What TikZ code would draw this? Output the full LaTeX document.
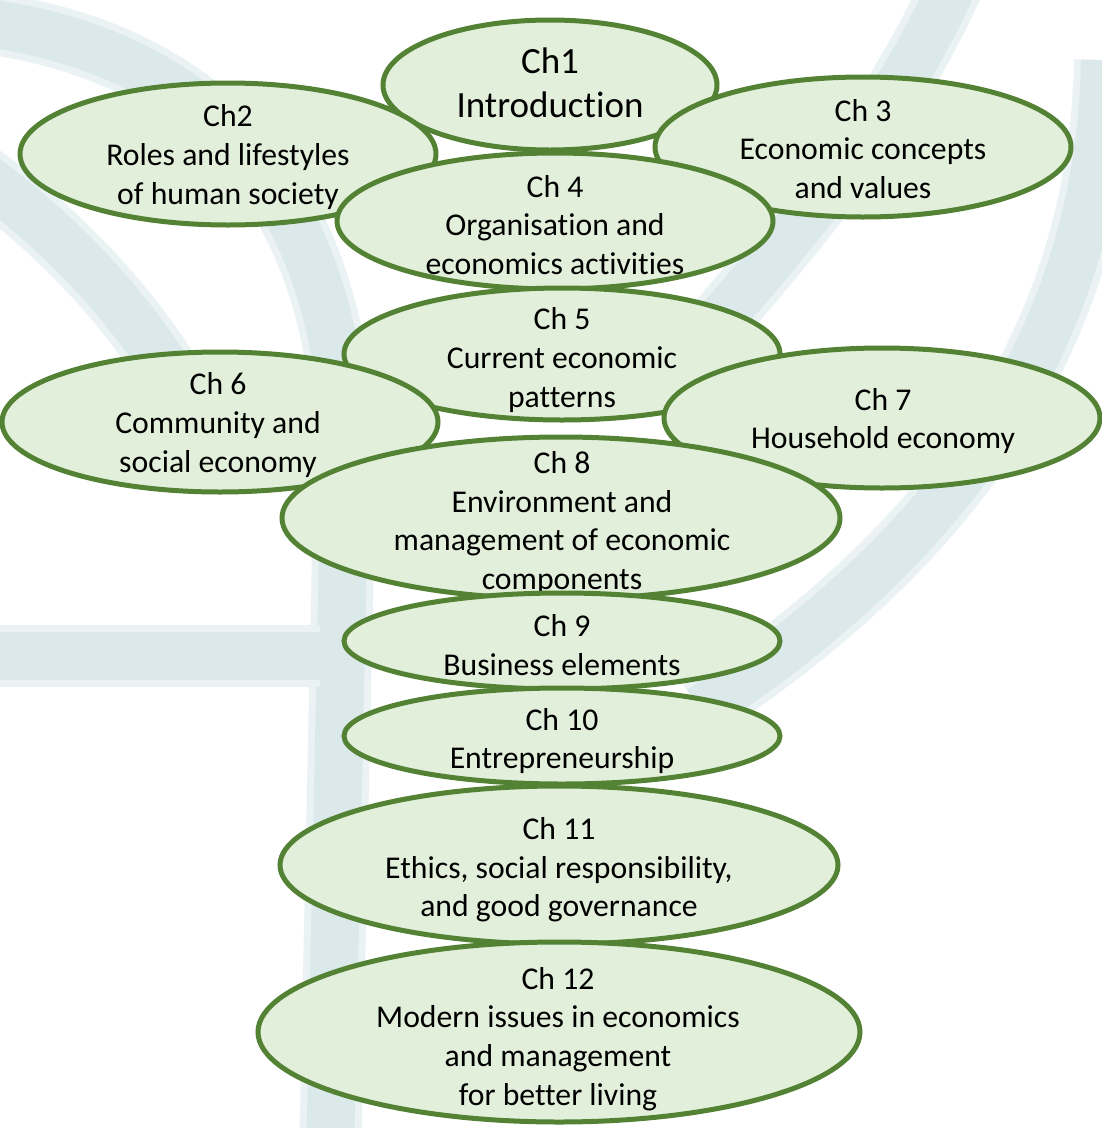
\documentclass[tikz,border=0pt]{standalone}
\usepackage{fontspec}
\setmainfont{Carlito}[Ligatures=CommonOff]
\definecolor{leafbg}{RGB}{220,233,235}
\definecolor{leaflight}{RGB}{234,242,243}
\definecolor{chapfill}{RGB}{226,239,218}
\definecolor{chapline}{RGB}{84,130,53}
\newcommand{\chtext}{\fontsize{31.7}{38.6}\selectfont}
\newcommand{\chbig}{\fontsize{37}{44}\selectfont}

\begin{document}
\begin{tikzpicture}[x=1pt,y=-1pt,
   leaf/.style={draw=leafbg,line width=48,line cap=butt,
      preaction={draw=leaflight,line width=62}},
   chap/.style={fill=chapfill,draw=chapline,line width=5},
   chaptext/.style={align=center,inner sep=0,font=\chtext}]
   \useasboundingbox (0,0) rectangle (1102,1128);
   % watermark in the back
   \draw[leaf] (-40,20) .. controls (180,40) and (340,170) .. (345,460) -- (330,1160);
   \draw[leaf] (-40,160) .. controls (40,215) and (120,290) .. (180,390);
   \draw[leaf] (-40,656) -- (320,656);
   \draw[leaf] (955,-20) .. controls (900,100) and (840,180) .. (720,320);
   \draw[leaf] (1105,60) .. controls (1100,330) and (960,540) .. (700,710);
   % chapters, drawn from the top down
   \draw[chap] (550,85) ellipse (167 and 65);
   \node[chaptext,font=\chbig] (ch1) at (550,83) {Ch1\\Introduction};
   \draw[chap] (228,154) ellipse (208 and 71);
   \node[chaptext] (ch2) at (228,157) {Ch2\\Roles and lifestyles\\of human society};
   \draw[chap] (863,147) ellipse (208 and 70);
   \node[chaptext] (ch3) at (863,149) {Ch 3\\Economic concepts\\and values};
   \draw[chap] (555,221) ellipse (218 and 68);
   \node[chaptext] (ch4) at (555,225) {Ch 4\\Organisation and\\economics activities};
   \draw[chap] (562,354) ellipse (218 and 66);
   \node[chaptext] (ch5) at (562,360) {Ch 5\\Current economic\\patterns};
   \draw[chap] (220,422) ellipse (218 and 70);
   \node[chaptext] (ch6) at (218,425) {Ch 6\\Community and\\social economy};
   \draw[chap] (882,418) ellipse (218 and 70);
   \node[chaptext] (ch7) at (883,421) {Ch 7\\Household economy};
   \draw[chap] (561,518) ellipse (279 and 81);
   \node[chaptext] (ch8) at (562,523) {Ch 8\\Environment and\\management of economic\\components};
   \draw[chap] (562,641) ellipse (218 and 48);
   \node[chaptext] (ch9) at (562,645) {Ch 9\\Business elements};
   \draw[chap] (562,736) ellipse (218 and 48);
   \node[chaptext] (ch10) at (562,741) {Ch 10\\Entrepreneurship};
   \draw[chap] (559,865) ellipse (279 and 79);
   \node[chaptext] (ch11) at (559,870) {Ch 11\\Ethics, social responsibility,\\and good governance};
   \draw[chap] (559,1032) ellipse (301 and 90);
   \node[chaptext] (ch12) at (558,1039) {Ch 12\\Modern issues in economics\\and management\\for better living};
\end{tikzpicture}
\end{document}
